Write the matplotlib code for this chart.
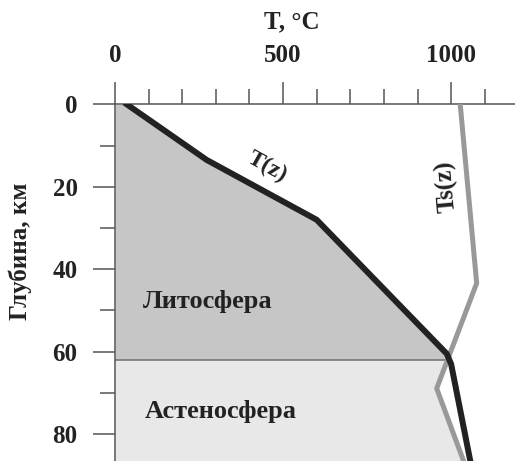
import numpy as np
import matplotlib
matplotlib.use('Agg')
import matplotlib.pyplot as plt

# temperature profile T(z) and solidus Ts(z)
t_temp = [35, 273, 600, 987, 1000, 1057]
t_depth = [0, 13.5, 28, 60.5, 63, 86.5]
ts_temp = [1027, 1076, 957, 1037]
ts_depth = [0, 43.4, 68.9, 86.5]
litho_base = 62

x_major = [0, 500, 1000]
y_major = [0, 20, 40, 60, 80]

plt.rcParams['font.family'] = ['Liberation Serif', 'DejaVu Serif']
plt.rcParams['font.weight'] = 'bold'

fig = plt.figure(figsize=(5.15, 4.61), dpi=100)
ax = fig.add_axes([115 / 515, 0, 400 / 515, 1 - 104.3 / 461])
ax.set_xlim(0, 1190)
ax.set_ylim(86.5, 0)

# fills
z1 = np.linspace(0, litho_base, 200)
ax.fill_betweenx(z1, 0, np.interp(z1, t_depth, t_temp), color='#c6c6c6', lw=0, zorder=1)
z2 = np.linspace(litho_base, 86.5, 200)
right = np.minimum(np.interp(z2, t_depth, t_temp), np.interp(z2, ts_depth, ts_temp))
ax.fill_betweenx(z2, 0, right, color='#e8e8e8', lw=0, zorder=1)
ax.plot([0, np.interp(litho_base, t_depth, t_temp)], [litho_base, litho_base],
        color='#777777', lw=1.2, zorder=2)

ax.plot(ts_temp, ts_depth, color='#999999', lw=3.6, zorder=3)
ax.plot(t_temp, t_depth, color='#222222', lw=4.3, zorder=4)

ax.text(277, 47.9, 'Литосфера', fontsize=19, ha='center', va='center', color='#222222')
ax.text(315, 74.6, 'Астеносфера', fontsize=19, ha='center', va='center', color='#222222')
ax.text(452, 15.2, 'T(z)', fontsize=17, ha='center', va='center', rotation=-29, color='#222222')
ax.text(986, 19.8, 'Ts(z)', fontsize=18, ha='center', va='center', rotation=95, color='#222222')

# axes styling
for s in ['right', 'bottom']:
    ax.spines[s].set_visible(False)
for s in ['top', 'left']:
    ax.spines[s].set_color('#555555')
    ax.spines[s].set_linewidth(1.1)

ax.xaxis.tick_top()
ax.set_xticks(x_major)
ax.set_xticks(np.arange(100, 1200, 100), minor=True)
ax.set_yticks(y_major)
ax.set_yticks([10, 30, 50, 70], minor=True)
ax.tick_params(which='major', length=16, width=1.1, color='#555555', labelsize=18, pad=11)
ax.tick_params(which='minor', length=11, width=1.1, color='#555555')
ax.tick_params(axis='x', which='both', top=True, bottom=False)
for lab in ax.get_xticklabels() + ax.get_yticklabels():
    lab.set_fontweight('bold')
    lab.set_color('#222222')

fig.text(291.5 / 515, 1 - 22 / 461, 'T, °C', fontsize=18, ha='center', va='center', color='#222222')
fig.text(20 / 515, 1 - 251 / 461, 'Глубина, км', fontsize=18, ha='center', va='center',
         rotation=90, color='#222222')

fig.savefig('out.png', dpi=100)
